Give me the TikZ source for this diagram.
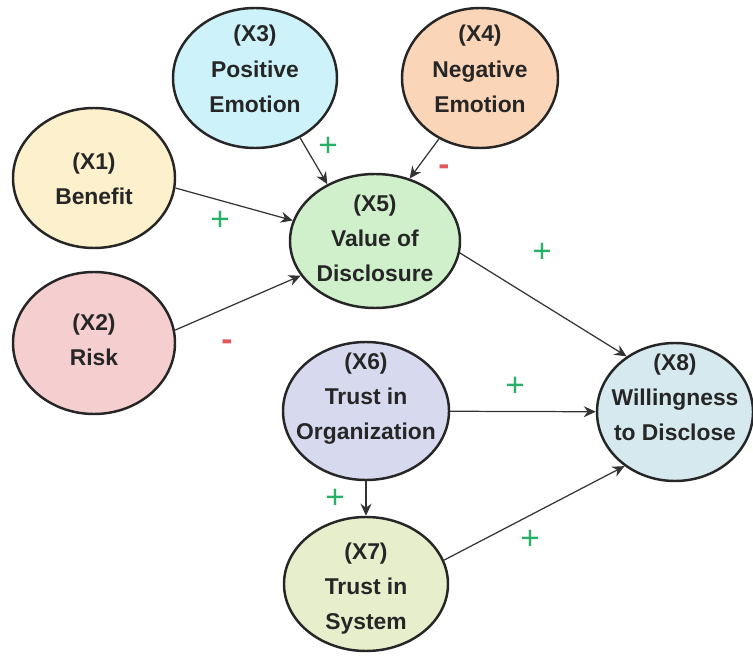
\documentclass[tikz,border=0pt]{standalone}
\usepackage{fontspec}
\setmainfont{Liberation Sans}
\usetikzlibrary{arrows.meta,shapes.geometric}
\usepackage{xcolor}

\definecolor{benefitfill}{HTML}{FDF0CD}
\definecolor{riskfill}{HTML}{F5CFCF}
\definecolor{posfill}{HTML}{CDF2FA}
\definecolor{negfill}{HTML}{FBD5B8}
\definecolor{valuefill}{HTML}{CFF0CB}
\definecolor{orgfill}{HTML}{D7D9EF}
\definecolor{sysfill}{HTML}{E7EECB}
\definecolor{willfill}{HTML}{D5E9EF}
\definecolor{plusgreen}{HTML}{27B066}
\definecolor{minusred}{HTML}{E2575A}

% text of a variable, kept out of the ellipse size
\newcommand{\ovaltext}[2][-2pt]{\makebox[0pt]{\raisebox{#1}[0pt][0pt]{\begin{tabular}{@{}c@{}}#2\end{tabular}}}}

\begin{document}
\begin{tikzpicture}[
  var/.style={ellipse, draw=black!85, line width=1.4pt, inner sep=0pt, text=black!85, font=\bfseries\fontsize{13}{20}\selectfont},
  arrow/.style={-{Stealth[length=2.4mm,width=2.2mm]}, line width=0.7pt, draw=black!80},
  plus/.style={text=plusgreen, font=\fontsize{19}{19}\selectfont},
  minus/.style={text=minusred, font=\bfseries\fontsize{19}{19}\selectfont}
]
  \useasboundingbox (0,0) rectangle (15.06,-13.14);

  \node[var, fill=benefitfill, minimum width=3.24cm, minimum height=2.8cm] (x1) at (1.88,-3.56) {\ovaltext[-4pt]{(X1)\\Benefit}};
  \node[var, fill=riskfill, minimum width=3.24cm, minimum height=2.84cm] (x2) at (1.88,-6.86) {\ovaltext{(X2)\\Risk}};
  \node[var, fill=posfill, minimum width=3.28cm, minimum height=2.8cm] (x3) at (5.10,-1.56) {\ovaltext[1.5pt]{(X3)\\Positive\\Emotion}};
  \node[var, fill=negfill, minimum width=3.12cm, minimum height=2.8cm] (x4) at (9.60,-1.56) {\ovaltext[1.5pt]{(X4)\\Negative\\Emotion}};
  \node[var, fill=valuefill, minimum width=3.4cm, minimum height=2.68cm] (x5) at (7.50,-4.82) {\ovaltext{(X5)\\Value of\\Disclosure}};
  \node[var, fill=orgfill, minimum width=3.32cm, minimum height=2.76cm] (x6) at (7.32,-8.22) {\ovaltext[4.5pt]{(X6)\\Trust in\\Organization}};
  \node[var, fill=sysfill, minimum width=3.28cm, minimum height=2.68cm] (x7) at (7.32,-11.68) {\ovaltext[-5pt]{(X7)\\Trust in\\System}};
  \node[var, fill=willfill, minimum width=3.12cm, minimum height=2.76cm] (x8) at (13.50,-8.24) {\ovaltext[4.5pt]{(X8)\\Willingness\\to Disclose}};

  \draw[arrow] (x1.-7) -- (x5.166);
  \draw[arrow] (x2.9) -- (x5.205);
  \draw[arrow] (x3.-53) -- (x5.130);
  \draw[arrow] (x4.-124) -- (x5.61);
  \draw[arrow] (x5.-8) -- (x8.131);
  \draw[arrow] (x6) -- (x8);
  \draw[arrow] (x6) -- (x7);
  \draw[arrow] (x7.17) -- (x8.227);

  \node[plus] (s3) at (6.56,-2.94) {+};
  \node[minus] (s4) at (8.88,-3.40) {-};
  \node[plus] (s1) at (4.40,-4.42) {+};
  \node[minus] (s2) at (4.54,-6.90) {-};
  \node[plus] (s5) at (10.84,-5.06) {+};
  \node[plus] (s6) at (10.30,-7.74) {+};
  \node[plus] (s67) at (6.70,-9.98) {+};
  \node[plus] (s7) at (10.60,-10.80) {+};
\end{tikzpicture}
\end{document}
